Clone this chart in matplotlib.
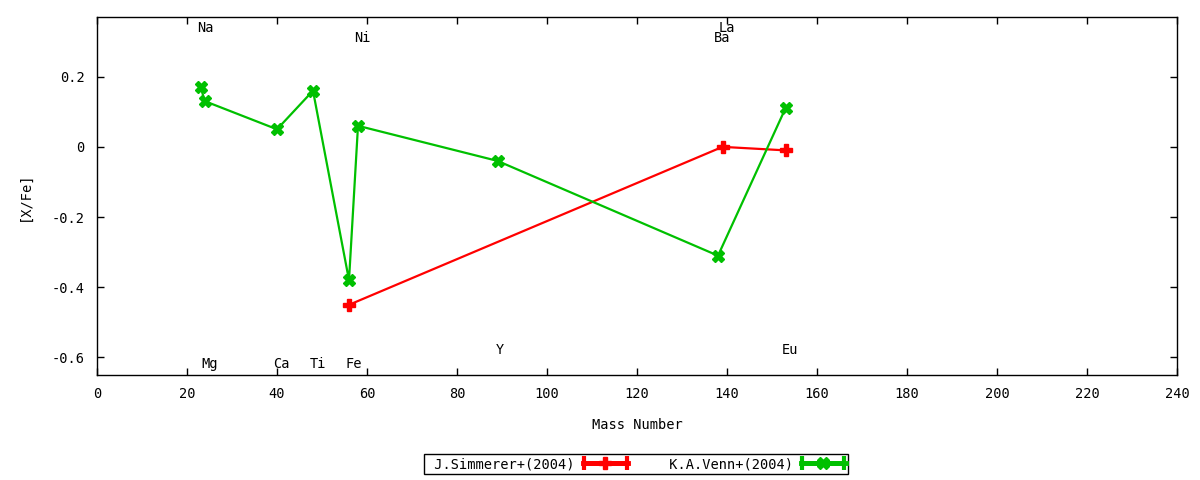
import numpy as np
import matplotlib.pyplot as plt
from matplotlib.legend_handler import HandlerErrorbar

plt.rcParams['font.family'] = 'DejaVu Sans Mono'
plt.rcParams['font.size'] = 9.8
plt.rcParams['axes.unicode_minus'] = False

# J.Simmerer+(2004)
sim_mass = [56, 139, 153]
sim_xfe = [-0.45, 0.00, -0.01]

# K.A.Venn+(2004)
venn_mass = [23, 24, 40, 48, 56, 58, 89, 138, 153]
venn_xfe = [0.17, 0.13, 0.05, 0.16, -0.38, 0.06, -0.04, -0.31, 0.11]

# element labels
elem_names = ['Na', 'Mg', 'Ca', 'Ti', 'Fe', 'Ni', 'Y', 'La', 'Ba', 'Eu']
elem_x = [24, 25, 41, 49, 57, 59, 89.5, 140, 139, 154]
elem_y = [0.34, -0.62, -0.62, -0.62, -0.62, 0.31, -0.58, 0.34, 0.31, -0.58]

fig = plt.figure(figsize=(12, 4.8), dpi=100)
ax = fig.add_axes([97/1200, 1-375/480, 1080/1200, 358/480])

red = '#ff0000'
green = '#00c000'

ax.plot(sim_mass, sim_xfe, color=red, lw=1.6, marker='P', ms=8, mec=red, mfc=red)
ax.plot(venn_mass, venn_xfe, color=green, lw=1.6, marker='X', ms=8, mec=green, mfc=green)

for n, x, y in zip(elem_names, elem_x, elem_y):
    ax.text(x, y, n, ha='center', va='center')

ax.set_xlim(0, 240)
ax.set_ylim(-0.65, 0.37)
ax.set_xticks(np.arange(0, 241, 20))
ax.set_yticks([-0.6, -0.4, -0.2, 0, 0.2])
ax.set_yticklabels(['-0.6', '-0.4', '-0.2', '0', '0.2'])
ax.tick_params(direction='in', top=True, right=True, length=5, width=1, pad=9)
for s in ax.spines.values():
    s.set_linewidth(1)

ax.set_xlabel('Mass Number', labelpad=12)
ax.set_ylabel('[X/Fe]', labelpad=14)

# legend proxies: line with end caps and a marker in the middle
h1 = ax.errorbar([np.nan], [np.nan], xerr=[1], color=red, lw=3.5, marker='P', ms=8,
                 capsize=5, capthick=3, label=' J.Simmerer+(2004)')
h2 = ax.errorbar([np.nan], [np.nan], xerr=[1], color=green, lw=3.5, marker='X', ms=8,
                 capsize=5, capthick=3, label=' K.A.Venn+(2004)')
hm = {h1: HandlerErrorbar(xerr_size=1.55), h2: HandlerErrorbar(xerr_size=1.55)}
leg = fig.legend(handles=[h1, h2], handler_map=hm, loc='center',
                 bbox_to_anchor=(636/1200, 1-464/480),
                 ncol=2, markerfirst=False, fancybox=False, edgecolor='black',
                 framealpha=1, borderpad=0.2, borderaxespad=0, handlelength=3.3,
                 columnspacing=2.4, handletextpad=0.6)
leg.get_frame().set_linewidth(1)

plt.savefig('out.png', dpi=100)
